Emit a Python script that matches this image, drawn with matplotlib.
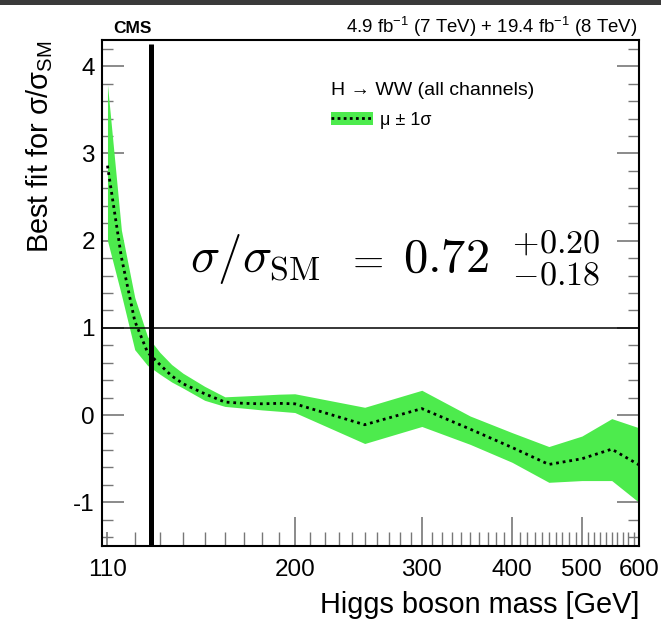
import matplotlib
matplotlib.use('Agg')
import matplotlib.pyplot as plt
from matplotlib.patches import Patch, Rectangle
from matplotlib.lines import Line2D
from matplotlib.ticker import NullFormatter

# Higgs -> WW signal strength vs mass
masses = [110, 115, 120, 125, 130, 135, 140, 150, 160, 170, 180, 190, 200,
          250, 300, 350, 400, 450, 500, 550, 600]
mu = [2.86, 1.81, 1.08, 0.72, 0.58, 0.45, 0.36, 0.245, 0.15, 0.135, 0.13, 0.135, 0.13,
      -0.11, 0.075, -0.16, -0.37, -0.565, -0.50, -0.39, -0.57]
mu_up = [3.79, 2.12, 1.35, 0.90, 0.72, 0.58, 0.48, 0.33, 0.21, 0.22, 0.23, 0.24, 0.245,
         0.09, 0.285, -0.01, -0.20, -0.36, -0.24, -0.04, -0.145]
mu_down = [2.00, 1.38, 0.75, 0.57, 0.47, 0.38, 0.31, 0.17, 0.10, 0.08, 0.06, 0.045, 0.03,
           -0.325, -0.13, -0.335, -0.54, -0.77, -0.75, -0.75, -1.00]

mh_obs = 126.5
x_labels = [110, 200, 300, 400, 500, 600]
x_minor = [m for m in range(120, 600, 10) if m not in x_labels]
y_labels = [-1, 0, 1, 2, 3, 4]
y_minor = [v / 10 for v in range(-14, 43, 2) if v % 10 != 0]

band_color = '#4deb4d'

plt.rcParams['font.family'] = ['Liberation Sans', 'DejaVu Sans']
plt.rcParams['axes.unicode_minus'] = False

fig = plt.figure(figsize=(6.61, 6.24), dpi=100)
ax = fig.add_axes([0.1539, 0.125, 0.8128, 0.8109])

ax.fill_between(masses, mu_down, mu_up, color=band_color, lw=0, zorder=2)
ax.plot(masses, mu, color='black', lw=2.0, linestyle=(0, (1, 1.4)), zorder=3)
ax.axhline(1, color='black', lw=1.1, zorder=4)
ax.vlines(mh_obs, -1.5, 4.25, color='black', lw=3.6, zorder=5)

ax.set_xscale('log')
ax.set_xlim(108, 600)
ax.set_ylim(-1.5, 4.3)

ax.set_xticks(x_labels, labels=[str(v) for v in x_labels])
ax.set_xticks(x_minor, minor=True)
ax.xaxis.set_minor_formatter(NullFormatter())
ax.set_yticks(y_labels, labels=[str(v) for v in y_labels])
ax.set_yticks(y_minor, minor=True)

ax.tick_params(which='both', direction='in', color='#777777', top=False, right=True,
               labelsize=17.5)
ax.tick_params(axis='x', which='major', length=21, width=1.2, pad=9)
ax.tick_params(axis='x', which='minor', length=10, width=1.0)
ax.tick_params(axis='y', which='major', length=16, width=1.2, pad=5)
ax.tick_params(axis='y', which='minor', length=8, width=1.0)
# 110 and 600 only carry short ticks
for t in (ax.xaxis.get_major_ticks()[0], ax.xaxis.get_major_ticks()[-1]):
    t.tick1line.set_markersize(10)
for s in ax.spines.values():
    s.set_linewidth(1.5)

# legend
handle = (Patch(facecolor=band_color, edgecolor='none'),
          Line2D([], [], color='black', lw=2.0, linestyle=(0, (1, 1.2))))
leg = ax.legend([handle], ['μ ± 1σ'], title='H → WW (all channels)',
                loc='upper left', bbox_to_anchor=(0.41, 0.935), frameon=False,
                alignment='left', fontsize=13, title_fontsize=14,
                handlelength=2.3, handleheight=0.8, handletextpad=0.4,
                borderpad=0, labelspacing=0.7)

# fit result
fig.text(190 / 661, 1 - 272 / 624, r'$\sigma/\sigma_{\rm SM}$',
         fontsize=35, math_fontfamily='cm', ha='left', va='baseline')
fig.text(345 / 661, 1 - 272 / 624, r'$=$', fontsize=29, math_fontfamily='cm',
         ha='left', va='baseline')
fig.text(403 / 661, 1 - 272 / 624, r'$0.72\ \,{}^{+0.20}_{-0.18}$',
         fontsize=35, math_fontfamily='cm', ha='left', va='baseline')

# titles
fig.text(113 / 661, 1 - 33 / 624, 'CMS', fontsize=12.5, fontweight='bold',
         ha='left', va='baseline')
fig.text(637 / 661, 1 - 33 / 624,
         r'4.9 fb$^{\mathregular{-1}}$ (7 TeV) + 19.4 fb$^{\mathregular{-1}}$ (8 TeV)',
         fontsize=13.4, ha='right', va='baseline')
fig.text(639 / 661, 1 - 613 / 624, 'Higgs boson mass [GeV]', fontsize=20.8,
         ha='right', va='baseline')
fig.text(40 / 661, 1 - 40 / 624, r'Best fit for σ/σ$_{\mathregular{SM}}$', fontsize=20.8,
         rotation=90, ha='center', va='top')

# dark strip along the top of the screenshot
fig.patches.append(Rectangle((0, 1 - 5 / 624), 1, 5 / 624, transform=fig.transFigure,
                             facecolor='#3a3a3a', edgecolor='none'))

fig.savefig('out.png', dpi=100)
